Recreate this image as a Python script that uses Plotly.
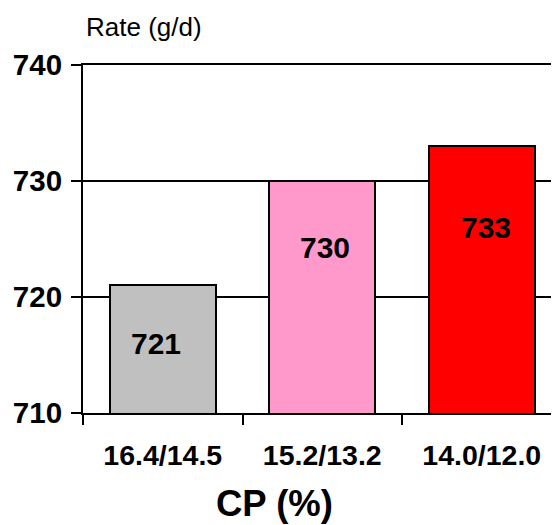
import plotly.graph_objects as go

categories = ["16.4/14.5", "15.2/13.2", "14.0/12.0"]
rates = [721, 730, 733]
bar_colors = ["#C0C0C0", "#FF99CC", "#FF0000"]
y_ticks = [710, 720, 730, 740]

# label placement (layout, not data)
label_y = [716, 724.3, 726]
label_xshift = [-7, 3, 4]

FONT = "Liberation Sans, Arial, sans-serif"

fig = go.Figure()
fig.add_trace(go.Bar(
    x=categories, y=rates, width=0.665,
    marker=dict(color=bar_colors, line=dict(color="black", width=2)),
    hoverinfo="skip",
))

for c, v, ly, xs in zip(categories, rates, label_y, label_xshift):
    fig.add_annotation(x=c, y=ly, text=str(v), showarrow=False, xshift=xs,
                       font=dict(family=FONT, size=30, color="black", weight="bold"))

fig.add_annotation(xref="paper", yref="paper", x=0.129, y=1.11, text="Rate (g/d)",
                   showarrow=False, xanchor="center", yanchor="middle",
                   font=dict(family=FONT, size=26, color="black"))
fig.add_annotation(xref="paper", yref="paper", x=0.403, y=-0.261, text="CP (%)",
                   showarrow=False, xanchor="center", yanchor="middle",
                   font=dict(family=FONT, size=36.5, color="black", weight="bold"))

# page body has an 8px margin, so the figure is sized to fit the window
fig.update_layout(
    width=551, height=517,
    margin=dict(l=75, r=0, t=57, b=112, autoexpand=False),
    paper_bgcolor="white", plot_bgcolor="white",
    showlegend=False,
    bargap=0,
    xaxis=dict(
        type="category", range=[-0.5, 2.484], automargin=False,
        showline=True, linecolor="black", linewidth=2, mirror=True,
        ticks="outside", tickson="boundaries", ticklen=10, tickwidth=2, tickcolor="black",
        showgrid=False,
        tickfont=dict(family=FONT, size=28.5, color="black", weight="bold"),
        ticklabelstandoff=16,
    ),
    yaxis=dict(
        range=[710, 740], tickvals=y_ticks, automargin=False,
        showline=True, linecolor="black", linewidth=2,
        ticks="outside", ticklen=10, tickwidth=2, tickcolor="black",
        showgrid=True, gridcolor="black", gridwidth=2,
        zeroline=False,
        tickfont=dict(family=FONT, size=29.5, color="black", weight="bold"),
        ticklabelstandoff=3,
    ),
)

fig.write_html("out.html")
